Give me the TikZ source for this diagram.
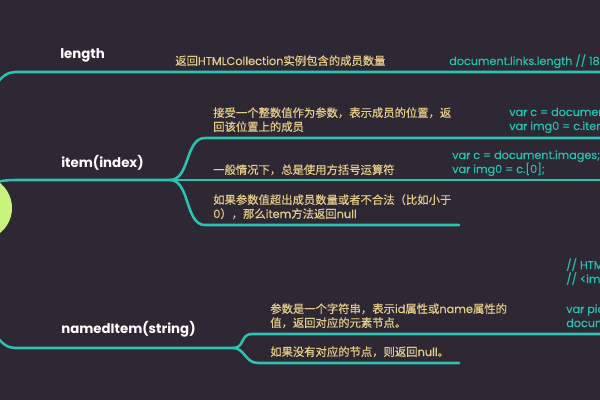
\documentclass[tikz,border=0pt]{standalone}
\usepackage{fontspec}
\setmainfont{Poppins}
\newfontfamily\cjk[FakeBold=0.5]{Noto Sans CJK SC}
\newfontfamily\medf[FakeBold=0.5]{Poppins}
\newcommand{\zh}[1]{{\cjk #1}}
\definecolor{bgc}{HTML}{2D2833}
\definecolor{brc}{HTML}{2CC3B1}
\definecolor{txtc}{HTML}{E6CC8A}
\definecolor{codec}{HTML}{25C0AE}
\definecolor{rootc}{HTML}{C8F27C}

\begin{document}
\begin{tikzpicture}
                [x=0.75pt, y=-0.75pt,
                every text node part/.style={align=left},
                lsty/.style={anchor=base west, inner sep=0pt, text=white, font=\bfseries\fontsize{10}{12}\selectfont},
                tsty/.style={anchor=base west, inner sep=0pt, text=txtc, font=\medf\fontsize{8.5}{10.5}\selectfont},
                csty/.style={anchor=base west, inner sep=0pt, text=codec, font=\medf\fontsize{8.4}{10.5}\selectfont},
                rsty/.style={circle, fill=rootc, inner sep=0pt, minimum size=48pt},
                bsty/.style={draw=brc, line width=1.9pt, line cap=round}]
                \useasboundingbox (0,0) rectangle (600,400);
                \fill[bgc] (0,0) rectangle (600,400);
                \clip (0,0) rectangle (600,400);
                % root
                \node[rsty] (root) at (-20,208) {};
                % length
                \node[lsty] (len) at (60,58) {length};
                \node[tsty] (lentxt) at (175,65) {\zh{返回}HTMLCollection\zh{实例包含的成员数量}};
                \node[csty] (lencode) at (449,65) {document.links.length // 18};
                \coordinate (l0) at (15,72);
                \coordinate (l1) at (610,72);
                \draw[bsty] (root) .. controls (-25,150) and (-15,72) .. (l0) -- (l1);
                % item(index)
                \node[lsty] (item) at (61,167) {item(index)};
                \node[tsty] (itemtxt1) at (213,131) {\zh{接受一个整数值作为参数，表示成员的位置，返}\\\zh{回该位置上的成员}};
                \node[csty] (itemcode1) at (509,130) {var c = document\\var img0 = c.item};
                \node[tsty] (itemtxt2) at (213,174) {\zh{一般情况下，总是使用方括号运算符}};
                \node[csty] (itemcode2) at (452,173) {var c = document.images;\\var img0 = c.[0];};
                \node[tsty] (itemtxt3) at (213,218) {\zh{如果参数值超出成员数量或者不合法（比如小于}\\0\zh{），那么}item\zh{方法返回}null};
                \coordinate (i0) at (15,180);
                \coordinate (i1) at (170,180);
                \coordinate (i2) at (610,138);
                \coordinate (i3) at (610,180);
                \coordinate (i4) at (459,225);
                \draw[bsty] (root) .. controls (-5,185) and (-5,180) .. (i0) -- (i1);
                \draw[bsty] (i1) .. controls (190,180) and (185,138) .. (205,138) -- (i2);
                \draw[bsty] (i1) -- (i3);
                \draw[bsty] (i1) .. controls (190,180) and (185,225) .. (205,225) -- (i4);
                % namedItem(string)
                \node[lsty] (named) at (61,333) {namedItem(string)};
                \node[tsty] (namedtxt1) at (270,327) {\zh{参数是一个字符串，表示}id\zh{属性或}name\zh{属性的}\\\zh{值，返回对应的元素节点。}};
                \node[tsty] (namedtxt2) at (270,356) {\zh{如果没有对应的节点，则返回}null\zh{。}};
                \node[csty] (namedcode1) at (566,283) {// HTML\\// <img};
                \node[csty] (namedcode2) at (566,327) {var pic\\docume};
                \coordinate (n0) at (15,348);
                \coordinate (n1) at (233,348);
                \coordinate (n2) at (610,334);
                \coordinate (n3) at (459,363);
                \draw[bsty] (root) .. controls (-25,270) and (-15,348) .. (n0) -- (n1);
                \draw[bsty] (n1) .. controls (245,348) and (240,334) .. (252,334) -- (n2);
                \draw[bsty] (n1) .. controls (245,348) and (245,363) .. (258,363) -- (n3);
            \end{tikzpicture}
\end{document}
